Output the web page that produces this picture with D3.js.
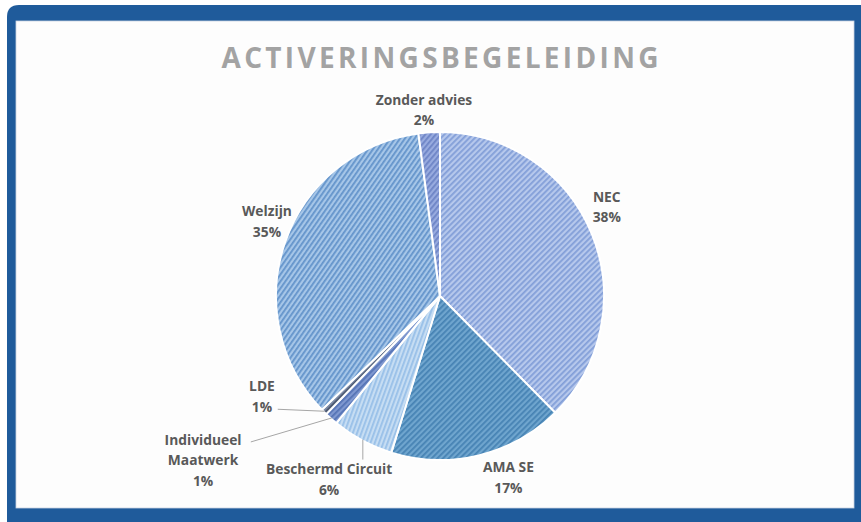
<!DOCTYPE html>
<html>
<head>
<meta charset="utf-8">
<script src="https://cdn.jsdelivr.net/npm/d3@7"></script>
<style>
  html, body { margin: 0; padding: 0; background: #ffffff; }
  svg { display: block; }
</style>
</head>
<body>
<script>
// ---- data ----
const title = "ACTIVERINGSBEGELEIDING";
const categories = ["NEC", "AMA SE", "Beschermd Circuit", "Individueel Maatwerk", "LDE", "Welzijn", "Zonder advies"];
const values = [37.6, 17.2, 6.1, 1.3, 0.6, 35.1, 2.1];
const percentLabels = ["38%", "17%", "6%", "1%", "1%", "35%", "2%"];
const labelLines = [["NEC"], ["AMA SE"], ["Beschermd Circuit"], ["Individueel", "Maatwerk"], ["LDE"], ["Welzijn"], ["Zonder advies"]];

// ---- styles ----
const baseColors   = ["#b6c8ec", "#6fa5ce", "#c6ddf3", "#7f98d0", "#7d8ba6", "#a6c6e8", "#98abdf"];
const stripeColors = ["#839fd8", "#4783b4", "#98c0e8", "#5674b6", "#4a566e", "#6494cb", "#6e85c6"];
const stripeAngles = [-45, -45, -70, -45, -45, -55, -50];

const W = 861, H = 522;
const cx = 440, cy = 296, R = 164;

const svg = d3.select("body").append("svg").attr("width", W).attr("height", H);
const defs = svg.append("defs");

// Frame
svg.append("path")
  .attr("d", `M7,${5+12} Q7,5 ${7+12},5 L${W+2},5 L${W+2},${H+2} L7,${H+2} Z`)
  .attr("fill", "#1f5b9b");
svg.append("rect").attr("x", 16).attr("y", 21).attr("width", 838).attr("height", 487)
  .attr("fill", "#fdfdfd").attr("stroke", "#c9d3e0").attr("stroke-width", 0.8);

// Patterns
categories.forEach((c, i) => {
  const p = defs.append("pattern")
    .attr("id", "pat" + i)
    .attr("patternUnits", "userSpaceOnUse")
    .attr("width", 4).attr("height", 4)
    .attr("patternTransform", `rotate(${stripeAngles[i]})`);
  p.append("rect").attr("width", 4).attr("height", 4).attr("fill", baseColors[i]);
  p.append("rect").attr("width", 4).attr("height", 1.8).attr("fill", stripeColors[i]);
});

// Title
svg.append("text")
  .attr("x", cx).attr("y", 68)
  .attr("text-anchor", "middle")
  .attr("font-family", "'Open Sans', sans-serif")
  .attr("font-weight", 700)
  .attr("font-size", 28)
  .attr("fill", "#a3a3a3")
  .attr("textLength", 437)
  .attr("lengthAdjust", "spacing")
  .text(title);

// Pie
const pie = d3.pie().sort(null).value(d => d)(values);
const arc = d3.arc().innerRadius(0).outerRadius(R);
const g = svg.append("g").attr("transform", `translate(${cx},${cy})`);
g.selectAll("path.slice").data(pie).enter().append("path")
  .attr("class", "slice")
  .attr("d", arc)
  .attr("fill", (d, i) => `url(#pat${i})`)
  .attr("stroke", "#ffffff")
  .attr("stroke-width", 2)
  .attr("stroke-linejoin", "round");

// Labels: anchor from mid-angle at label radius, plus nudges
const labelRadius = [190, 192, 213, 250, 200, 189, 188];
const labelNudge = [[-9, -17], [23, -5], [-10, -4], [-71, -23], [-36.6, -41], [5.4, -12], [-3.6, 1.5]];
const mid = d => (d.startAngle + d.endAngle) / 2;
const lineH = 20.5;

pie.forEach((d, i) => {
  const a = mid(d);
  const x = cx + Math.sin(a) * labelRadius[i] + labelNudge[i][0];
  const y = cy - Math.cos(a) * labelRadius[i] + labelNudge[i][1];
  const lines = labelLines[i].concat([percentLabels[i]]);
  const top = y - (lines.length - 1) * lineH / 2;
  const txt = svg.append("text")
    .attr("text-anchor", "middle")
    .attr("font-family", "'Open Sans', sans-serif")
    .attr("font-weight", 700)
    .attr("font-size", 13.8)
    .attr("fill", "#595959");
  lines.forEach((l, k) => {
    txt.append("tspan").attr("x", x).attr("y", top + k * lineH + 5).text(l);
  });
});

// Leader lines for the small slices
const leaderEnds = { 2: [0, 20], 3: [-81, 24], 4: [-47, -2] };
Object.keys(leaderEnds).forEach(k => {
  const d = pie[+k];
  const a = mid(d);
  const x0 = cx + Math.sin(a) * (R - 1), y0 = cy - Math.cos(a) * (R - 1);
  svg.append("line")
    .attr("x1", x0).attr("y1", y0)
    .attr("x2", x0 + leaderEnds[k][0]).attr("y2", y0 + leaderEnds[k][1])
    .attr("stroke", "#a6a6a6").attr("stroke-width", 1);
});
</script>
</body>
</html>
